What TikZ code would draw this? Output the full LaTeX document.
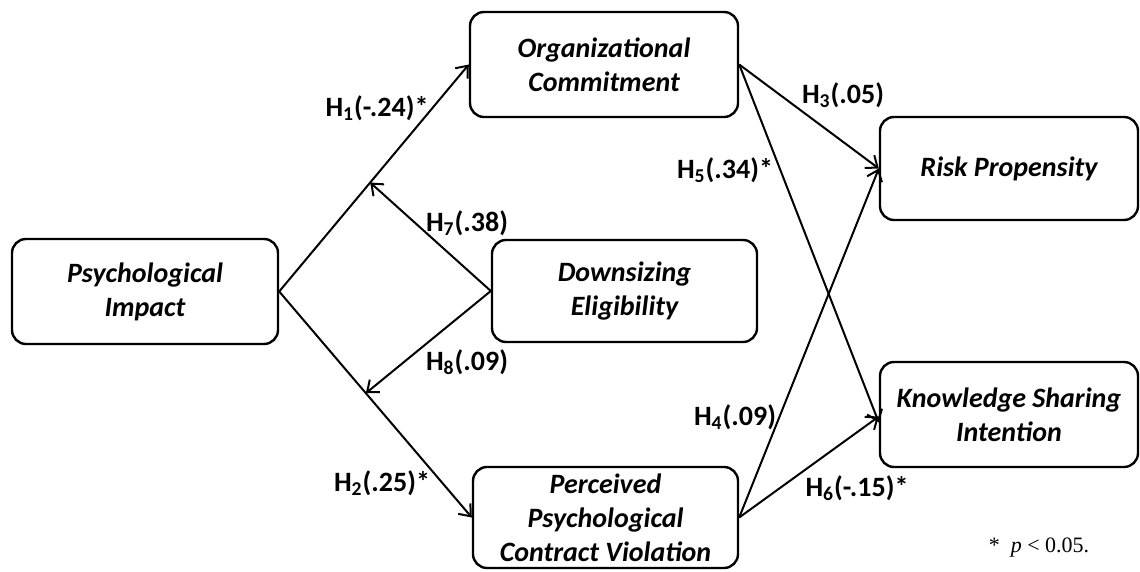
\documentclass[tikz,border=0pt]{standalone}
\usepackage{fontspec}
\setmainfont{Carlito}
\newfontfamily\notefont{Liberation Serif}
\usetikzlibrary{arrows.meta,calc}

\tikzset{
  factor/.style={draw, line width=1.2pt, rounded corners=7pt, align=center, inner sep=0pt,
    font=\fontsize{14}{17}\selectfont\bfseries\itshape},
  link/.style={line width=1pt, -{Straight Barb[length=5pt,width=8pt]}},
  hyp/.style={font=\fontsize{14}{17}\selectfont\bfseries, inner sep=1pt}
}

\begin{document}
\begin{tikzpicture}[x=0.5pt,y=-0.5pt]
\useasboundingbox (0,0) rectangle (1140,572);

%% constructs
\node[factor, minimum width=133pt, minimum height=52.5pt] (pi) at (145,291.5) {Psychological\\Impact};
\node[factor, minimum width=134pt, minimum height=52.5pt] (oc) at (604,64.5) {Organizational\\Commitment};
\node[factor, minimum width=132.5pt, minimum height=51pt] (de) at (624.5,291) {Downsizing\\Eligibility};
\node[factor, minimum width=132.5pt, minimum height=50.5pt] (pcv) at (605.5,517.5) {Perceived\\Psychological\\Contract Violation};
\node[factor, minimum width=129pt, minimum height=51.5pt] (rp) at (1009,168.5) {Risk Propensity};
\node[factor, minimum width=129pt, minimum height=52.5pt] (ksi) at (1009,414.5) {Knowledge Sharing\\Intention};

%% paths
\draw[link] (pi.east) to (oc.west);
\draw[link] (pi.east) to (pcv.west);
\coordinate (h1mid) at ($(pi.east)!0.48!(oc.west)$);
\coordinate (h2mid) at ($(pi.east)!0.45!(pcv.west)$);
\draw[link] (de.west) to (h1mid);
\draw[link] (de.west) to (h2mid);
\draw[link] (oc.east) to (rp.west);
\draw[link] (oc.east) to ([yshift=-4pt]ksi.west);
\draw[link] (pcv.east) to (rp.west);
\draw[link] (pcv.east) to ([yshift=-1pt]ksi.west);

%% coefficients
\node[hyp] (lh1) at (377,108) {H\textsubscript{1}(-.24)*};
\node[hyp] (lh7) at (467,223) {H\textsubscript{7}(.38)};
\node[hyp] (lh8) at (467,362) {H\textsubscript{8}(.09)};
\node[hyp] (lh2) at (382,483) {H\textsubscript{2}(.25)*};
\node[hyp] (lh3) at (843,95) {H\textsubscript{3}(.05)};
\node[hyp] (lh5) at (725,170) {H\textsubscript{5}(.34)*};
\node[hyp] (lh4) at (735,417) {H\textsubscript{4}(.09)};
\node[hyp] (lh6) at (857,488) {H\textsubscript{6}(-.15)*};

\node[font=\notefont\fontsize{11}{13}\selectfont] (note) at (1039,548) {*~~\textit{p} < 0.05.};

\end{tikzpicture}
\end{document}
